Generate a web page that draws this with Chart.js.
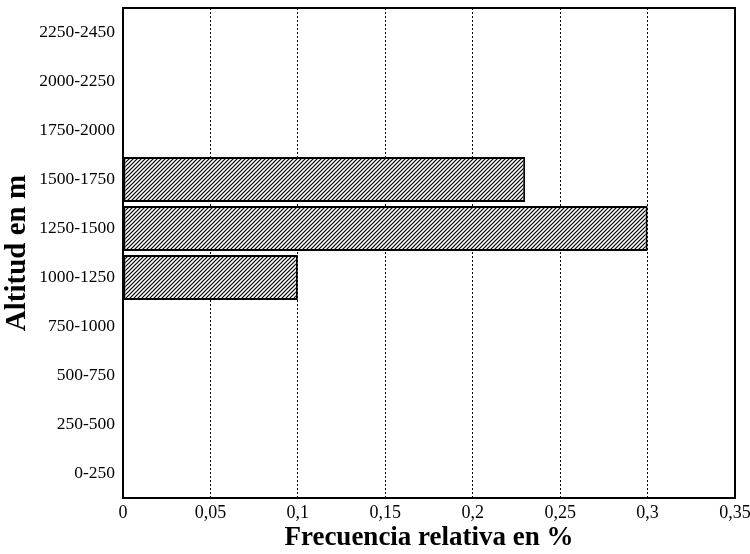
<!DOCTYPE html>
<html>
<head>
<meta charset="utf-8">
<script src="https://cdn.jsdelivr.net/npm/chart.js@4/dist/chart.umd.min.js"></script>
<style>
html,body{margin:0;padding:0;background:#fff;}
#wrap{width:750px;height:554px;}
</style>
</head>
<body>
<div id="wrap"><canvas id="c" width="750" height="554"></canvas></div>
<script>
const categories = ['0-250','250-500','500-750','750-1000','1000-1250','1250-1500','1500-1750','1750-2000','2000-2250','2250-2450'];
const frecuencia = [0, 0, 0, 0, 0.10, 0.30, 0.23, 0, 0, 0];
const xTickLabels = ['0','0,05','0,1','0,15','0,2','0,25','0,3','0,35'];

function hatch(){
  const s = 4;
  const p = document.createElement('canvas');
  p.width = s; p.height = s;
  const g = p.getContext('2d');
  g.fillStyle = '#fff'; g.fillRect(0,0,s,s);
  g.strokeStyle = '#000'; g.lineWidth = 1.2;
  g.beginPath();
  g.moveTo(0, s); g.lineTo(s, 0);
  g.moveTo(-1, 1); g.lineTo(1, -1);
  g.moveTo(s-1, s+1); g.lineTo(s+1, s-1);
  g.stroke();
  return g.createPattern(p, 'repeat');
}

const frame = {
  id: 'frame',
  afterDraw(chart){
    const a = chart.chartArea, ctx = chart.ctx;
    ctx.save();
    ctx.strokeStyle = '#000'; ctx.lineWidth = 2;
    ctx.strokeRect(a.left, a.top, a.right - a.left, a.bottom - a.top);
    ctx.restore();
  }
};

const serif = '"Liberation Serif", "DejaVu Serif", serif';

new Chart(document.getElementById('c'), {
  type: 'bar',
  data: {
    labels: categories,
    datasets: [{
      data: frecuencia,
      backgroundColor: hatch(),
      borderColor: '#000',
      borderWidth: 2,
      borderSkipped: false,
      barPercentage: 0.92,
      categoryPercentage: 1.0
    }]
  },
  options: {
    indexAxis: 'y',
    responsive: false,
    animation: false,
    layout: { padding: { top: 8, right: 15, left: 0, bottom: 0 } },
    plugins: { legend: { display: false }, tooltip: { enabled: false } },
    scales: {
      x: {
        min: 0, max: 0.35,
        ticks: {
          stepSize: 0.05,
          color: '#000',
          maxRotation: 0,
          font: { family: serif, size: 18 },
          padding: 4,
          callback: (v, i) => xTickLabels[i]
        },
        grid: { color: '#000', lineWidth: 1, drawTicks: false },
        border: { display: false, dash: [2, 2] },
        title: {
          display: true,
          text: 'Frecuencia relativa en %',
          color: '#000',
          font: { family: serif, size: 27, weight: 'bold' },
          padding: { top: 0, bottom: 0 }
        },
        afterFit(s){ s.height = 56; s.paddingLeft = 0; s.paddingRight = 0; }
      },
      y: {
        reverse: true,
        ticks: {
          color: '#000',
          font: { family: serif, size: 17.5 },
          padding: 8
        },
        grid: { display: false, drawTicks: false },
        border: { display: false },
        title: {
          display: true,
          text: 'Altitud en m',
          color: '#000',
          font: { family: serif, size: 29, weight: 'bold' },
          padding: { top: 0, bottom: 4 }
        },
        afterFit(s){ s.width = 123; s.paddingTop = 0; s.paddingBottom = 0; }
      }
    }
  },
  plugins: [frame]
});
</script>
</body>
</html>
